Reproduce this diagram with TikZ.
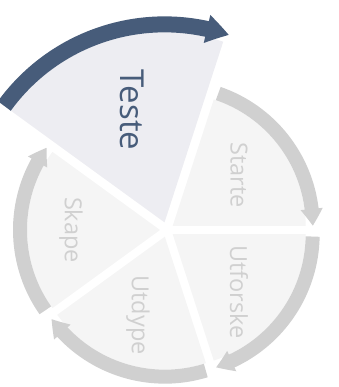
\documentclass[tikz,border=0pt]{standalone}
\usepackage{fontspec}
\setmainfont{Open Sans}
\usetikzlibrary{arrows.meta,bending}
\definecolor{tdark}{HTML}{475C7A}
\definecolor{tfill}{HTML}{EDEDF2}
\definecolor{gfill}{HTML}{F5F5F5}
\definecolor{gband}{HTML}{D0D0D0}
\definecolor{gtext}{HTML}{D0D0D0}
\tikzset{
  graysector/.style={fill=gfill},
  grayband/.style={draw=gband,line width=14pt,-{Triangle[length=17pt,width=21pt,bend]}},
  grayLabel/.style={text=gtext,font=\fontsize{23.5}{26}\selectfont,rotate=-90,inner sep=0pt},
  hisector/.style={fill=tfill},
  hiband/.style={draw=tdark,line width=16pt,-{Triangle[length=23pt,width=27pt,bend]}},
  hiLabel/.style={text=tdark,font=\fontsize{33}{36}\selectfont,rotate=-90,inner sep=0pt}
}
\begin{document}
\begin{tikzpicture}[x=1pt,y=1pt]
\useasboundingbox (0,0) rectangle (338,387);
\coordinate (C) at (167,157);
\coordinate (cS) at ([shift={(36:7)}]C);
\coordinate (cU) at ([shift={(-36:7)}]C);
\coordinate (cD) at ([shift={(-108:7)}]C);
\coordinate (cK) at ([shift={(180:7)}]C);
\coordinate (cT) at ([shift={(108:8)}]C);
% sectors
\fill[graysector] (cS) -- ([shift={(0:133)}]cS) arc[start angle=0,end angle=72,radius=133] -- cycle;
\fill[graysector] (cU) -- ([shift={(-72:133)}]cU) arc[start angle=-72,end angle=0,radius=133] -- cycle;
\fill[graysector] (cD) -- ([shift={(-144:133)}]cD) arc[start angle=-144,end angle=-72,radius=133] -- cycle;
\fill[graysector] (cK) -- ([shift={(144:133)}]cK) arc[start angle=144,end angle=216,radius=133] -- cycle;
\fill[hisector] (cT) -- ([shift={(72:190)}]cT) arc[start angle=72,end angle=144,radius=190] -- cycle;
% bands
\draw[grayband] ([shift={(71:140)}]cS) arc[start angle=71,end angle=0,radius=140];
\draw[grayband] ([shift={(-1:140)}]cU) arc[start angle=-1,end angle=-72,radius=140];
\draw[grayband] ([shift={(-73:140)}]cD) arc[start angle=-73,end angle=-144,radius=140];
\draw[grayband] ([shift={(215:140)}]cK) arc[start angle=215,end angle=144,radius=140];
\draw[hiband] ([shift={(144:198)}]cT) arc[start angle=144,end angle=71,radius=198];
% labels
\node[hiLabel] (teste) at (132,277) {Teste};
\node[grayLabel] (starte) at (239,212) {Starte};
\node[grayLabel] (utforske) at (239,95) {Utforske};
\node[grayLabel] (utdype) at (138,72) {Utdype};
\node[grayLabel] (skape) at (71,157) {Skape};
\end{tikzpicture}
\end{document}
